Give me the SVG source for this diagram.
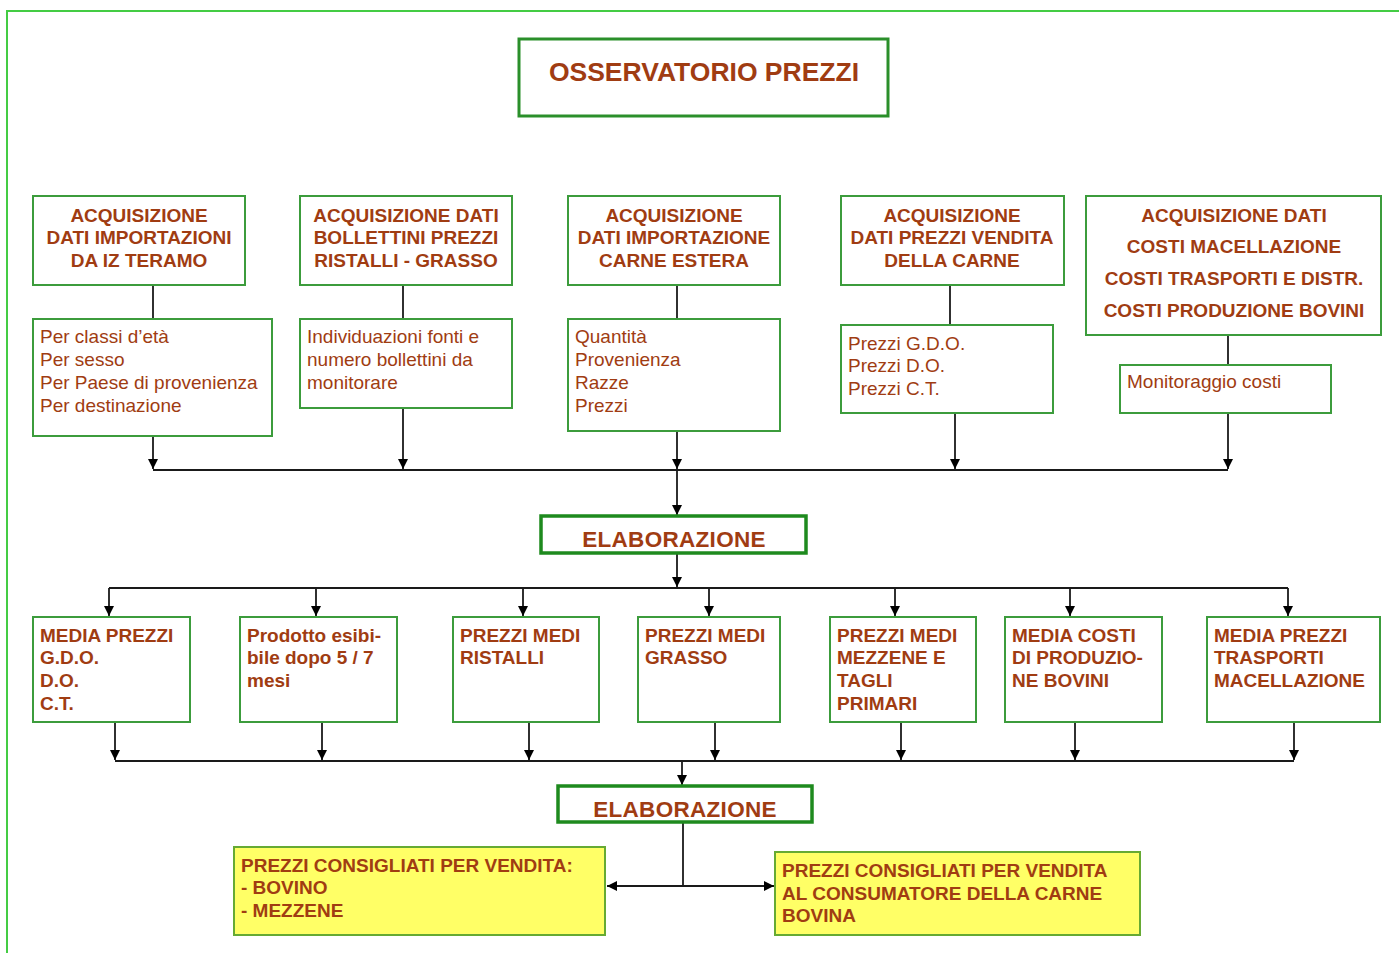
<svg xmlns="http://www.w3.org/2000/svg" width="1399" height="953" viewBox="0 0 1399 953">
<style>
.box{fill:#fff;stroke:#3c9c3c;stroke-width:2}
.ybox{fill:#ffff66;stroke:#66aa33;stroke-width:2}
.ebox{fill:#fff;stroke:#1e8a1e;stroke-width:3.5}
.t{font-family:"Liberation Sans",Arial,sans-serif;fill:#a03c12}
.b{font-weight:bold;font-size:19px}
.r{font-size:19px}
.c{text-anchor:middle}
.ln{stroke:#1a1a1a;stroke-width:1.8;fill:none}
</style>
<defs>
<marker id="ah" viewBox="0 0 10 10" refX="10" refY="5" markerWidth="10" markerHeight="10" markerUnits="userSpaceOnUse" orient="auto">
<path d="M0,0 L10,5 L0,10 Z" fill="#000"/>
</marker>
<marker id="ahs" viewBox="0 0 10 10" refX="0" refY="5" markerWidth="10" markerHeight="10" markerUnits="userSpaceOnUse" orient="auto">
<path d="M10,0 L0,5 L10,10 Z" fill="#000"/>
</marker>
</defs>
<rect x="7" y="11" width="1420" height="980" fill="none" stroke="#44cc44" stroke-width="2"/>

<g id="connectors">
<line class="ln" x1="153" y1="285" x2="153" y2="319"/>
<line class="ln" x1="403" y1="285" x2="403" y2="319"/>
<line class="ln" x1="677" y1="285" x2="677" y2="319"/>
<line class="ln" x1="950" y1="285" x2="950" y2="325"/>
<line class="ln" x1="1228" y1="335" x2="1228" y2="365"/>
<line class="ln" x1="153" y1="436" x2="153" y2="469" marker-end="url(#ah)"/>
<line class="ln" x1="403" y1="408" x2="403" y2="469" marker-end="url(#ah)"/>
<line class="ln" x1="677" y1="431" x2="677" y2="469" marker-end="url(#ah)"/>
<line class="ln" x1="955" y1="413" x2="955" y2="469" marker-end="url(#ah)"/>
<line class="ln" x1="1228" y1="413" x2="1228" y2="469" marker-end="url(#ah)"/>
<line class="ln" x1="153" y1="470" x2="1228" y2="470"/>
<line class="ln" x1="677" y1="470" x2="677" y2="515" marker-end="url(#ah)"/>
<line class="ln" x1="677" y1="553" x2="677" y2="587" marker-end="url(#ah)"/>
<line class="ln" x1="109" y1="588" x2="1288" y2="588"/>
<line class="ln" x1="109" y1="588" x2="109" y2="616" marker-end="url(#ah)"/>
<line class="ln" x1="316" y1="588" x2="316" y2="616" marker-end="url(#ah)"/>
<line class="ln" x1="523" y1="588" x2="523" y2="616" marker-end="url(#ah)"/>
<line class="ln" x1="709" y1="588" x2="709" y2="616" marker-end="url(#ah)"/>
<line class="ln" x1="895" y1="588" x2="895" y2="616" marker-end="url(#ah)"/>
<line class="ln" x1="1070" y1="588" x2="1070" y2="616" marker-end="url(#ah)"/>
<line class="ln" x1="1288" y1="588" x2="1288" y2="616" marker-end="url(#ah)"/>
<line class="ln" x1="115" y1="722" x2="115" y2="760" marker-end="url(#ah)"/>
<line class="ln" x1="322" y1="722" x2="322" y2="760" marker-end="url(#ah)"/>
<line class="ln" x1="529" y1="722" x2="529" y2="760" marker-end="url(#ah)"/>
<line class="ln" x1="715" y1="722" x2="715" y2="760" marker-end="url(#ah)"/>
<line class="ln" x1="901" y1="722" x2="901" y2="760" marker-end="url(#ah)"/>
<line class="ln" x1="1075" y1="722" x2="1075" y2="760" marker-end="url(#ah)"/>
<line class="ln" x1="1294" y1="722" x2="1294" y2="760" marker-end="url(#ah)"/>
<line class="ln" x1="115" y1="761" x2="1294" y2="761"/>
<line class="ln" x1="682" y1="761" x2="682" y2="785" marker-end="url(#ah)"/>
<line class="ln" x1="683" y1="822" x2="683" y2="886"/>
<line class="ln" x1="607" y1="886" x2="774" y2="886" marker-start="url(#ahs)" marker-end="url(#ah)"/>
</g>

<g id="title">
<rect x="519" y="39" width="369" height="77" fill="#fff" stroke="#2a8f2a" stroke-width="3"/>
<text class="t c" x="704" y="81" font-size="26.5" font-weight="bold">OSSERVATORIO PREZZI</text>
</g>

<g id="acq1">
<rect class="box" x="33" y="196" width="212" height="89"/>
<text class="t b c" x="139" y="222">ACQUISIZIONE</text>
<text class="t b c" x="139" y="244">DATI IMPORTAZIONI</text>
<text class="t b c" x="139" y="267">DA IZ TERAMO</text>
</g>
<g id="acq2">
<rect class="box" x="300" y="196" width="212" height="89"/>
<text class="t b c" x="406" y="222">ACQUISIZIONE DATI</text>
<text class="t b c" x="406" y="244">BOLLETTINI PREZZI</text>
<text class="t b c" x="406" y="267">RISTALLI - GRASSO</text>
</g>
<g id="acq3">
<rect class="box" x="568" y="196" width="212" height="89"/>
<text class="t b c" x="674" y="222">ACQUISIZIONE</text>
<text class="t b c" x="674" y="244">DATI IMPORTAZIONE</text>
<text class="t b c" x="674" y="267">CARNE ESTERA</text>
</g>
<g id="acq4">
<rect class="box" x="841" y="196" width="223" height="89"/>
<text class="t b c" x="952" y="222">ACQUISIZIONE</text>
<text class="t b c" x="952" y="244">DATI PREZZI VENDITA</text>
<text class="t b c" x="952" y="267">DELLA CARNE</text>
</g>
<g id="acq5">
<rect class="box" x="1086" y="196" width="295" height="139"/>
<text class="t b c" x="1234" y="222">ACQUISIZIONE DATI</text>
<text class="t b c" x="1234" y="253">COSTI MACELLAZIONE</text>
<text class="t b c" x="1234" y="285">COSTI TRASPORTI E DISTR.</text>
<text class="t b c" x="1234" y="317">COSTI PRODUZIONE BOVINI</text>
</g>

<g id="det1">
<rect class="box" x="33" y="319" width="239" height="117"/>
<text class="t r" x="40" y="343">Per classi d’età</text>
<text class="t r" x="40" y="366">Per sesso</text>
<text class="t r" x="40" y="389">Per Paese di provenienza</text>
<text class="t r" x="40" y="412">Per destinazione</text>
</g>
<g id="det2">
<rect class="box" x="300" y="319" width="212" height="89"/>
<text class="t r" x="307" y="343">Individuazioni fonti e</text>
<text class="t r" x="307" y="366">numero bollettini da</text>
<text class="t r" x="307" y="389">monitorare</text>
</g>
<g id="det3">
<rect class="box" x="568" y="319" width="212" height="112"/>
<text class="t r" x="575" y="343">Quantità</text>
<text class="t r" x="575" y="366">Provenienza</text>
<text class="t r" x="575" y="389">Razze</text>
<text class="t r" x="575" y="412">Prezzi</text>
</g>
<g id="det4">
<rect class="box" x="841" y="325" width="212" height="88"/>
<text class="t r" x="848" y="350">Prezzi G.D.O.</text>
<text class="t r" x="848" y="372">Prezzi D.O.</text>
<text class="t r" x="848" y="395">Prezzi C.T.</text>
</g>
<g id="det5">
<rect class="box" x="1120" y="365" width="211" height="48"/>
<text class="t r" x="1127" y="388">Monitoraggio costi</text>
</g>

<g id="elab1">
<rect class="ebox" x="541" y="516" width="265" height="37"/>
<text class="t c" x="674" y="547" font-size="22.5" font-weight="bold" letter-spacing="0.3">ELABORAZIONE</text>
</g>

<g id="res1">
<rect class="box" x="33" y="617" width="157" height="105"/>
<text class="t b" x="40" y="642">MEDIA PREZZI</text>
<text class="t b" x="40" y="664">G.D.O.</text>
<text class="t b" x="40" y="687">D.O.</text>
<text class="t b" x="40" y="710">C.T.</text>
</g>
<g id="res2">
<rect class="box" x="240" y="617" width="157" height="105"/>
<text class="t b" x="247" y="642">Prodotto esibi-</text>
<text class="t b" x="247" y="664">bile dopo 5 / 7</text>
<text class="t b" x="247" y="687">mesi</text>
</g>
<g id="res3">
<rect class="box" x="453" y="617" width="146" height="105"/>
<text class="t b" x="460" y="642">PREZZI MEDI</text>
<text class="t b" x="460" y="664">RISTALLI</text>
</g>
<g id="res4">
<rect class="box" x="638" y="617" width="142" height="105"/>
<text class="t b" x="645" y="642">PREZZI MEDI</text>
<text class="t b" x="645" y="664">GRASSO</text>
</g>
<g id="res5">
<rect class="box" x="830" y="617" width="146" height="105"/>
<text class="t b" x="837" y="642">PREZZI MEDI</text>
<text class="t b" x="837" y="664">MEZZENE E</text>
<text class="t b" x="837" y="687">TAGLI</text>
<text class="t b" x="837" y="710">PRIMARI</text>
</g>
<g id="res6">
<rect class="box" x="1005" y="617" width="157" height="105"/>
<text class="t b" x="1012" y="642">MEDIA COSTI</text>
<text class="t b" x="1012" y="664">DI PRODUZIO-</text>
<text class="t b" x="1012" y="687">NE BOVINI</text>
</g>
<g id="res7">
<rect class="box" x="1207" y="617" width="173" height="105"/>
<text class="t b" x="1214" y="642">MEDIA PREZZI</text>
<text class="t b" x="1214" y="664">TRASPORTI</text>
<text class="t b" x="1214" y="687">MACELLAZIONE</text>
</g>

<g id="elab2">
<rect class="ebox" x="558" y="786" width="254" height="36"/>
<text class="t c" x="685" y="817" font-size="22.5" font-weight="bold" letter-spacing="0.3">ELABORAZIONE</text>
</g>

<g id="out1">
<rect class="ybox" x="234" y="847" width="371" height="88"/>
<text class="t b" x="241" y="872">PREZZI CONSIGLIATI PER VENDITA:</text>
<text class="t b" x="241" y="894">- BOVINO</text>
<text class="t b" x="241" y="917">- MEZZENE</text>
</g>
<g id="out2">
<rect class="ybox" x="775" y="852" width="365" height="83"/>
<text class="t b" x="782" y="877">PREZZI CONSIGLIATI PER VENDITA</text>
<text class="t b" x="782" y="900">AL CONSUMATORE DELLA CARNE</text>
<text class="t b" x="782" y="922">BOVINA</text>
</g>
</svg>
